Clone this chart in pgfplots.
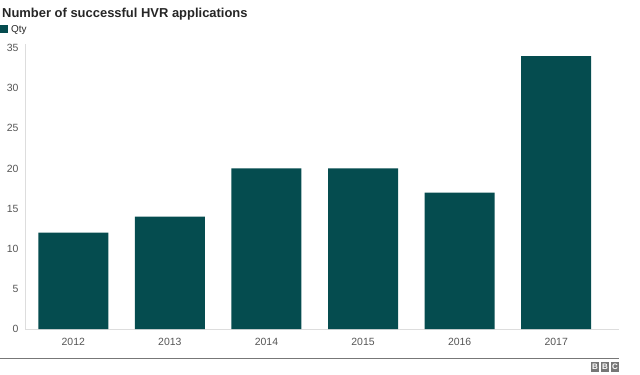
\documentclass[border=0pt]{standalone}
\usepackage{pgfplots}
\pgfplotsset{compat=1.18}
\usepackage{fontspec}
\setmainfont{Liberation Sans}
\definecolor{barc}{HTML}{054C4F}
\definecolor{tickc}{HTML}{555555}
\definecolor{axc}{HTML}{DDDDDD}
\definecolor{rulec}{HTML}{777777}
\begin{document}
\begin{tikzpicture}[x=1bp,y=1bp]
\useasboundingbox (0,0) rectangle (640,374);
\node[anchor=base west,inner sep=0pt,font=\bfseries\fontsize{13}{15}\selectfont,text=black!85] at (2,357) {Number of successful HVR applications};
\fill[barc] (0,341) rectangle (8,349);
\node[anchor=base west,inner sep=0pt,font=\fontsize{10}{11}\selectfont,text=black!85] at (11,341.5) {Qty};
\begin{axis}[
  at={(25bp,45bp)}, anchor=south west,
  scale only axis, width=594bp, height=285bp,
  xmin=-0.5, xmax=5.65, ymin=0, ymax=35.5,
  axis lines=left,
  x axis line style={draw=axc,-},
  y axis line style={draw=axc,-},
  xtick={0,1,2,3,4,5},
  xticklabels={2012,2013,2014,2015,2016,2017},
  ytick={0,5,10,15,20,25,30,35},
  major tick length=0pt,
  tick label style={font=\fontsize{10.5}{11}\selectfont, text=tickc},
  /pgf/number format/assume math mode=true,
  xticklabel style={yshift=-6bp},
  yticklabel style={xshift=-3bp},
  ybar, bar width=70bp,
  clip=false,
]
\addplot[draw=none, fill=barc] coordinates {(0,12) (1,14) (2,20) (3,20) (4,17) (5,34)};
\end{axis}
\draw[rulec, line width=1bp] (0,16) -- (619,16);
\foreach \i/\l in {0/B,1/B,2/C} {
  \fill[rulec] (591+\i*10,2) rectangle (599+\i*10,12);
  \node[text=white, font=\bfseries\fontsize{8}{8}\selectfont, inner sep=0pt] at (595+\i*10,7) {\l};
}
\end{tikzpicture}
\end{document}
